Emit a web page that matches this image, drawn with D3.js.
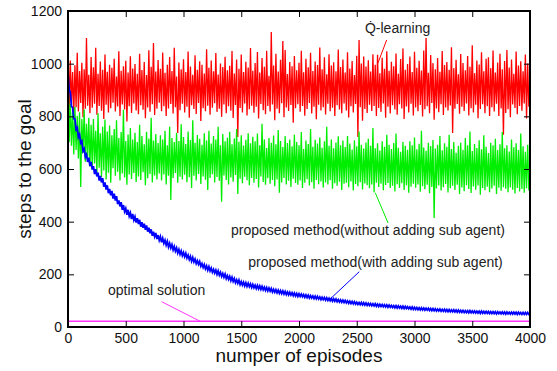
<!DOCTYPE html>
<html><head><meta charset="utf-8">
<script src="https://cdn.jsdelivr.net/npm/d3@7"></script>
<style>
body{margin:0;background:#fff;}
svg{display:block;font-family:"Liberation Sans",Arial,Helvetica,sans-serif;}
</style></head>
<body><svg id="chart" width="557" height="371"></svg>
<script>
// ---- data ----
const xTicks = [0,500,1000,1500,2000,2500,3000,3500,4000];
const yTicks = [0,200,400,600,800,1000,1200];
const xLabel = "numper of episodes";
const yLabel = "steps to the goal";

const step = 10;   // episodes between samples

// series: alternating upper / lower extremes of each 10-episode slice
const qLearning = [
1085,822,1012,846,968,809,994,835,1041,818,972,851,1003,797,979,829,1097,840,958,812,
1025,833,986,848,1060,806,962,839,1008,821,977,790,1035,844,969,815,996,831,984,852,
1019,818,951,837,1047,801,973,845,990,826,1011,780,966,838,1028,813,982,849,999,822,
962,808,1038,842,976,825,1006,793,957,834,1051,817,988,846,1078,805,970,829,1014,852,
981,819,1042,838,965,801,996,830,1025,847,972,811,1060,835,951,737,1004,823,979,848,
1017,815,968,836,1046,795,989,842,958,828,1032,809,977,851,1009,782,996,831,963,819,
1055,840,984,806,1012,833,971,850,1040,817,959,829,1001,798,987,845,1026,812,975,838,
992,821,1048,794,963,843,1016,722,981,832,1035,815,968,849,1007,803,985,827,1059,840,
973,814,1002,836,1044,792,966,847,1021,823,988,808,1049,839,954,818,1120,845,993,785,
1038,829,970,812,1015,850,1086,797,1052,834,961,820,1006,843,990,776,1029,831,975,846,
1003,817,1049,839,967,802,1019,828,986,851,1041,811,972,836,1008,789,995,844,1061,822,
979,835,1024,807,960,848,1036,819,993,833,1005,801,971,842,1054,826,987,812,1016,849,
966,822,1043,796,982,838,1010,815,957,847,1030,722,1090,835,1001,783,1027,828,989,813,
1013,844,970,820,1036,839,996,801,1034,832,964,817,1022,849,981,795,1047,836,973,811,
1007,842,990,826,1039,806,962,846,1018,830,1058,790,977,837,999,815,1027,848,968,803,
1045,834,984,819,1011,843,974,799,1050,827,1097,838,965,812,1033,851,1002,787,979,830,
1021,816,969,846,1048,805,995,834,1006,822,977,841,1062,737,983,829,1015,847,960,810,
1037,836,1002,820,975,849,1029,803,988,831,1070,815,964,844,1012,793,997,828,1043,846,
971,812,1019,838,1024,801,983,835,1050,818,966,848,1004,801,1038,830,979,730,1010,813,
1052,827,985,797,1016,845,962,832,1046,808,993,839,1009,821,971,849,1035,792,1001,836];

const withoutSub = [
1050,702,848,688,821,655,836,672,802,640,815,532,790,661,826,628,772,645,795,610,
768,598,790,621,745,582,812,605,736,570,760,594,788,560,742,586,765,548,728,603,
752,574,785,590,718,556,740,583,825,568,706,540,731,579,756,562,712,585,738,551,
702,572,768,558,725,588,694,538,741,565,716,581,795,549,708,575,733,560,699,583,
728,556,712,579,745,541,690,574,760,482,718,566,702,585,738,548,706,571,770,560,
721,578,695,550,742,569,710,528,785,574,700,556,729,581,715,543,692,572,736,559,
708,520,745,566,697,580,725,549,712,570,760,555,690,476,733,575,705,558,719,541,
741,568,694,552,716,577,752,505,703,563,728,546,689,571,711,557,736,538,698,566,
722,548,705,562,735,530,690,572,772,551,712,540,680,565,718,544,700,558,727,535,
694,560,748,510,706,549,683,566,725,541,699,555,712,532,686,563,730,547,702,540,
690,556,740,528,676,548,708,561,695,537,752,550,684,525,711,558,697,542,720,553,
681,530,705,549,760,541,688,557,712,525,679,546,701,536,724,552,690,520,708,544,
683,548,725,531,697,553,674,518,709,543,686,535,742,550,692,522,678,545,701,538,
715,527,688,541,756,512,679,548,698,532,670,544,705,519,684,539,730,547,692,528,
676,536,699,515,735,542,681,528,665,546,702,520,688,538,673,510,705,533,690,544,
720,529,675,541,696,514,745,535,682,523,669,540,700,508,687,532,710,414,678,526,
692,537,725,518,671,531,698,543,684,511,730,527,676,536,702,520,662,540,688,505,
700,530,673,516,718,538,690,524,742,509,668,534,695,521,680,537,709,502,675,528,
728,519,684,533,661,512,700,526,690,536,715,505,672,529,694,517,740,531,679,525,
690,512,666,530,712,521,683,507,698,528,672,515,735,524,686,510,665,527,692,518];

const withSub = [
962,903,891,838,833,791,790,750,757,721,731,699,706,668,677,646,655,627,643,611,
627,598,611,581,599,572,586,556,574,549,565,533,549,522,538,508,524,500,517,488,
506,480,497,467,481,458,474,445,463,438,450,426,445,421,434,410,429,406,419,397,
413,391,407,381,398,377,392,369,386,362,377,356,371,346,362,343,357,334,349,329,
343,322,337,318,330,311,325,304,318,300,313,293,306,288,300,281,294,276,289,271,
283,267,280,262,273,256,268,250,264,247,258,241,252,238,249,231,241,226,237,221,
232,216,229,213,224,208,219,205,216,200,213,197,208,192,203,189,201,184,195,181,
192,176,189,173,184,168,179,166,178,161,172,159,170,156,168,154,166,153,164,150,
162,149,159,146,158,145,156,143,154,141,151,139,150,137,148,136,146,133,143,132,
142,130,140,128,138,127,137,125,135,123,133,122,132,121,130,119,129,118,127,116,
126,116,125,115,123,113,122,112,121,110,119,110,118,108,117,107,116,106,114,104,
113,104,112,102,111,101,109,100,108,98,107,98,106,96,104,95,103,94,102,93,
101,92,99,90,98,89,97,88,96,87,94,86,93,85,93,84,92,83,91,82,
90,82,89,81,88,80,88,79,87,78,86,78,85,77,84,76,84,75,83,75,
82,74,81,73,81,72,80,72,79,71,79,70,78,70,77,69,76,68,76,67,
75,67,74,66,73,65,73,65,72,64,71,64,71,63,70,62,70,62,69,61,
68,61,68,60,67,60,67,59,66,58,66,58,65,58,65,57,64,56,64,56,
63,56,63,55,62,55,62,54,62,54,61,54,61,53,60,53,60,52,60,52,
59,52,59,52,59,51,58,51,58,51,58,50,58,51,57,50,57,50,57,49,
57,50,56,49,56,49,56,49,56,48,56,49,55,48,55,48,55,48,55,48,52];

const optimalValue = 22;
const optimalRange = [0, 4000];

// annotation labels: text, anchor (episode, steps), pointer line [from, to], colour
const labels = ["Q\u0307-learning","proposed method(without adding sub agent)","proposed method(with adding sub agent)","optimal solution"];
const labelPos = [[2571,1117],[1411,349],[1561,227],[346,122]];
const pointerFrom = [[2759,1090],[2771,395],[2522,210],[811,96]];
const pointerTo = [[2684,1003],[2660,510],[2262,103],[1143,22]];
const seriesColors = ["#ff0000","#00ee00","#0000ff","#ff33ff"];

// ---- drawing ----
const svg = d3.select("#chart");
const margin = {left:68, right:27, top:11, bottom:44};
const W = 557, H = 371;
const x = d3.scaleLinear().domain([0,4000]).range([margin.left, W - margin.right]);
const y = d3.scaleLinear().domain([0,1200]).range([H - margin.bottom, margin.top]);

svg.append("defs").append("clipPath").attr("id","clip")
  .append("rect").attr("x",x(0)).attr("y",y(1200)).attr("width",x(4000)-x(0)).attr("height",y(0)-y(1200));

const plot = svg.append("g").attr("clip-path","url(#clip)");
const line = d3.line().x(d=>x(d[0])).y(d=>y(d[1]));

plot.append("path").datum(qLearning.map((v,i)=>[i*step,v]))
  .attr("d",line).attr("fill","none").attr("stroke",seriesColors[0]).attr("stroke-width",1.3);
plot.append("path").datum(withoutSub.map((v,i)=>[i*step,v]))
  .attr("d",line).attr("fill","none").attr("stroke",seriesColors[1]).attr("stroke-width",1.3);
plot.append("path").datum(withSub.map((v,i)=>[i*step,v]))
  .attr("d",line).attr("fill","none").attr("stroke",seriesColors[2]).attr("stroke-width",1.8);
plot.append("path").datum(optimalRange.map(e=>[e,optimalValue]))
  .attr("d",line).attr("fill","none").attr("stroke",seriesColors[3]).attr("stroke-width",1.5);

// pointers
labels.forEach((t,i)=>{
  svg.append("line")
    .attr("x1",x(pointerFrom[i][0])).attr("y1",y(pointerFrom[i][1]))
    .attr("x2",x(pointerTo[i][0])).attr("y2",y(pointerTo[i][1]))
    .attr("stroke",seriesColors[i]).attr("stroke-width",1);
  svg.append("text").attr("x",x(labelPos[i][0])).attr("y",y(labelPos[i][1]))
    .attr("font-size",14).attr("fill","#222").text(t);
});

// axes with inward ticks, mirrored
const tk = 6;
svg.append("g").attr("transform",`translate(0,${y(0)})`)
  .call(d3.axisBottom(x).tickValues(xTicks).tickSize(-tk).tickPadding(6).tickFormat(d3.format("d")));
svg.append("g").attr("transform",`translate(${x(0)},0)`)
  .call(d3.axisLeft(y).tickValues(yTicks).tickSize(-tk).tickPadding(6).tickFormat(d3.format("d")));
svg.append("g").attr("transform",`translate(0,${y(1200)})`)
  .call(d3.axisTop(x).tickValues(xTicks).tickSize(-tk).tickFormat(""));
svg.append("g").attr("transform",`translate(${x(4000)},0)`)
  .call(d3.axisRight(y).tickValues(yTicks).tickSize(-tk).tickFormat(""));
svg.selectAll(".domain").remove();
svg.selectAll(".tick line").attr("stroke","#000").attr("stroke-width",1);
svg.selectAll(".tick text").attr("font-size",14).attr("fill","#111").attr("font-family","'Liberation Sans',Arial,sans-serif");

svg.append("rect").attr("x",x(0)).attr("y",y(1200)).attr("width",x(4000)-x(0)).attr("height",y(0)-y(1200))
  .attr("fill","none").attr("stroke","#000").attr("stroke-width",2);

svg.append("text").attr("x",(x(0)+x(4000))/2).attr("y",362).attr("text-anchor","middle")
  .attr("font-size",19).attr("fill","#111").text(xLabel);
svg.append("text").attr("transform",`translate(31,${(y(0)+y(1200))/2}) rotate(-90)`).attr("text-anchor","middle")
  .attr("font-size",19).attr("fill","#111").text(yLabel);
</script></body></html>
